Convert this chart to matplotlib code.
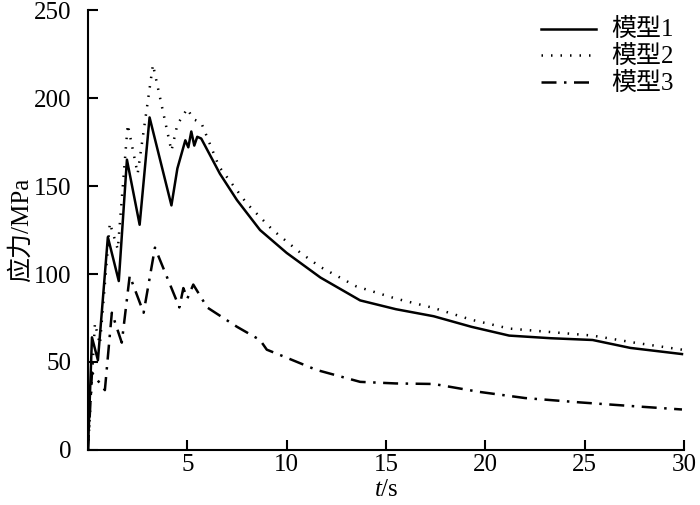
import matplotlib
matplotlib.use('Agg')
import matplotlib.pyplot as plt

plt.rcParams['font.family'] = ['Liberation Serif', 'Noto Sans CJK SC']
plt.rcParams['mathtext.fontset'] = 'custom'
plt.rcParams['mathtext.it'] = 'Liberation Serif:italic'
plt.rcParams['mathtext.rm'] = 'Liberation Serif'

# time (s) and stress (MPa)
t1 = [0, 0.2, 0.5, 1.0, 1.55, 1.96, 2.6, 3.1, 4.2, 4.5, 4.7, 4.9, 5.05, 5.2, 5.35, 5.5, 5.7,
      6.64, 7.5, 8.66, 10.0, 11.7, 13.7, 15.5, 17.4, 19.3, 21.2, 23.3, 25.4, 27.3, 29.9]
s1 = [0, 64, 51, 121, 96, 165, 128, 189, 139, 160, 168, 176, 172, 181, 173, 178, 177,
      157, 142, 125, 112, 98, 85, 80, 76, 70, 65, 63.5, 62.5, 58, 54.5]

t2 = [0, 0.35, 0.6, 1.1, 1.5, 2.0, 2.5, 3.27, 4.2, 4.5, 5.0, 5.3, 5.7, 6.6, 8.0, 9.3,
      10.7, 11.7, 13.5, 15.5, 17.4, 19.3, 21.2, 23.3, 25.4, 27.5, 29.9]
s2 = [0, 72, 60, 129, 114, 185, 157, 219, 170, 185, 194, 188, 186, 161, 140, 125,
      112, 104, 93, 86, 80.7, 74, 69, 67, 65, 61, 57]

t3 = [0, 0.2, 0.85, 1.2, 1.7, 2.1, 2.8, 3.37, 4.6, 4.8, 5.0, 5.3, 6.0, 7.5, 8.66, 9.0,
      9.66, 11.5, 13.7, 15.5, 17.4, 19.7, 22.0, 24.8, 27.3, 29.9]
s3 = [0, 44, 34, 78, 61, 99, 78, 115, 81, 92, 86, 94, 81, 70, 62.5, 57,
      54, 45.5, 38.7, 37.8, 37.5, 33, 29.5, 27, 25, 23]

labels = ['模型1', '模型2', '模型3']

fig = plt.figure(figsize=(7, 5.05), dpi=100)
ax = fig.add_axes([0.1257, 0.109, 0.8514, 0.871])

ax.plot(t1, s1, color='k', linewidth=1.8, linestyle='-', label=labels[0])
ax.plot(t2, s2, color='k', linewidth=1.8, linestyle=(0, (0.6, 3.2)), label=labels[1])
ax.plot(t3, s3, color='k', linewidth=1.8, linestyle=(0, (6, 3, 1, 3)), label=labels[2])

ax.set_xlim(0, 30)
ax.set_ylim(0, 250)
ax.set_xticks([5, 10, 15, 20, 25, 30])
ax.set_yticks([0, 50, 100, 150, 200, 250])
ax.tick_params(direction='in', length=7, width=1.5, labelsize=18)
ax.tick_params(axis='y', pad=12)
ax.tick_params(axis='x', pad=3)
for sp in ['top', 'right']:
    ax.spines[sp].set_visible(False)
for sp in ['left', 'bottom']:
    ax.spines[sp].set_linewidth(1.5)

ax.set_xlabel('$t$/s', fontsize=18)
ax.xaxis.set_label_coords(0.5, -0.092)
ax.xaxis.label.set_va('center')
ax.set_ylabel('应力/MPa', fontsize=18)
ax.yaxis.set_label_coords(-0.093, 0.5)

ax.legend(loc='upper right', bbox_to_anchor=(1.02, 1.03), frameon=False, fontsize=18,
          handlelength=2.2, handletextpad=0.6, labelspacing=0.15)

plt.savefig('out.png', dpi=100)
